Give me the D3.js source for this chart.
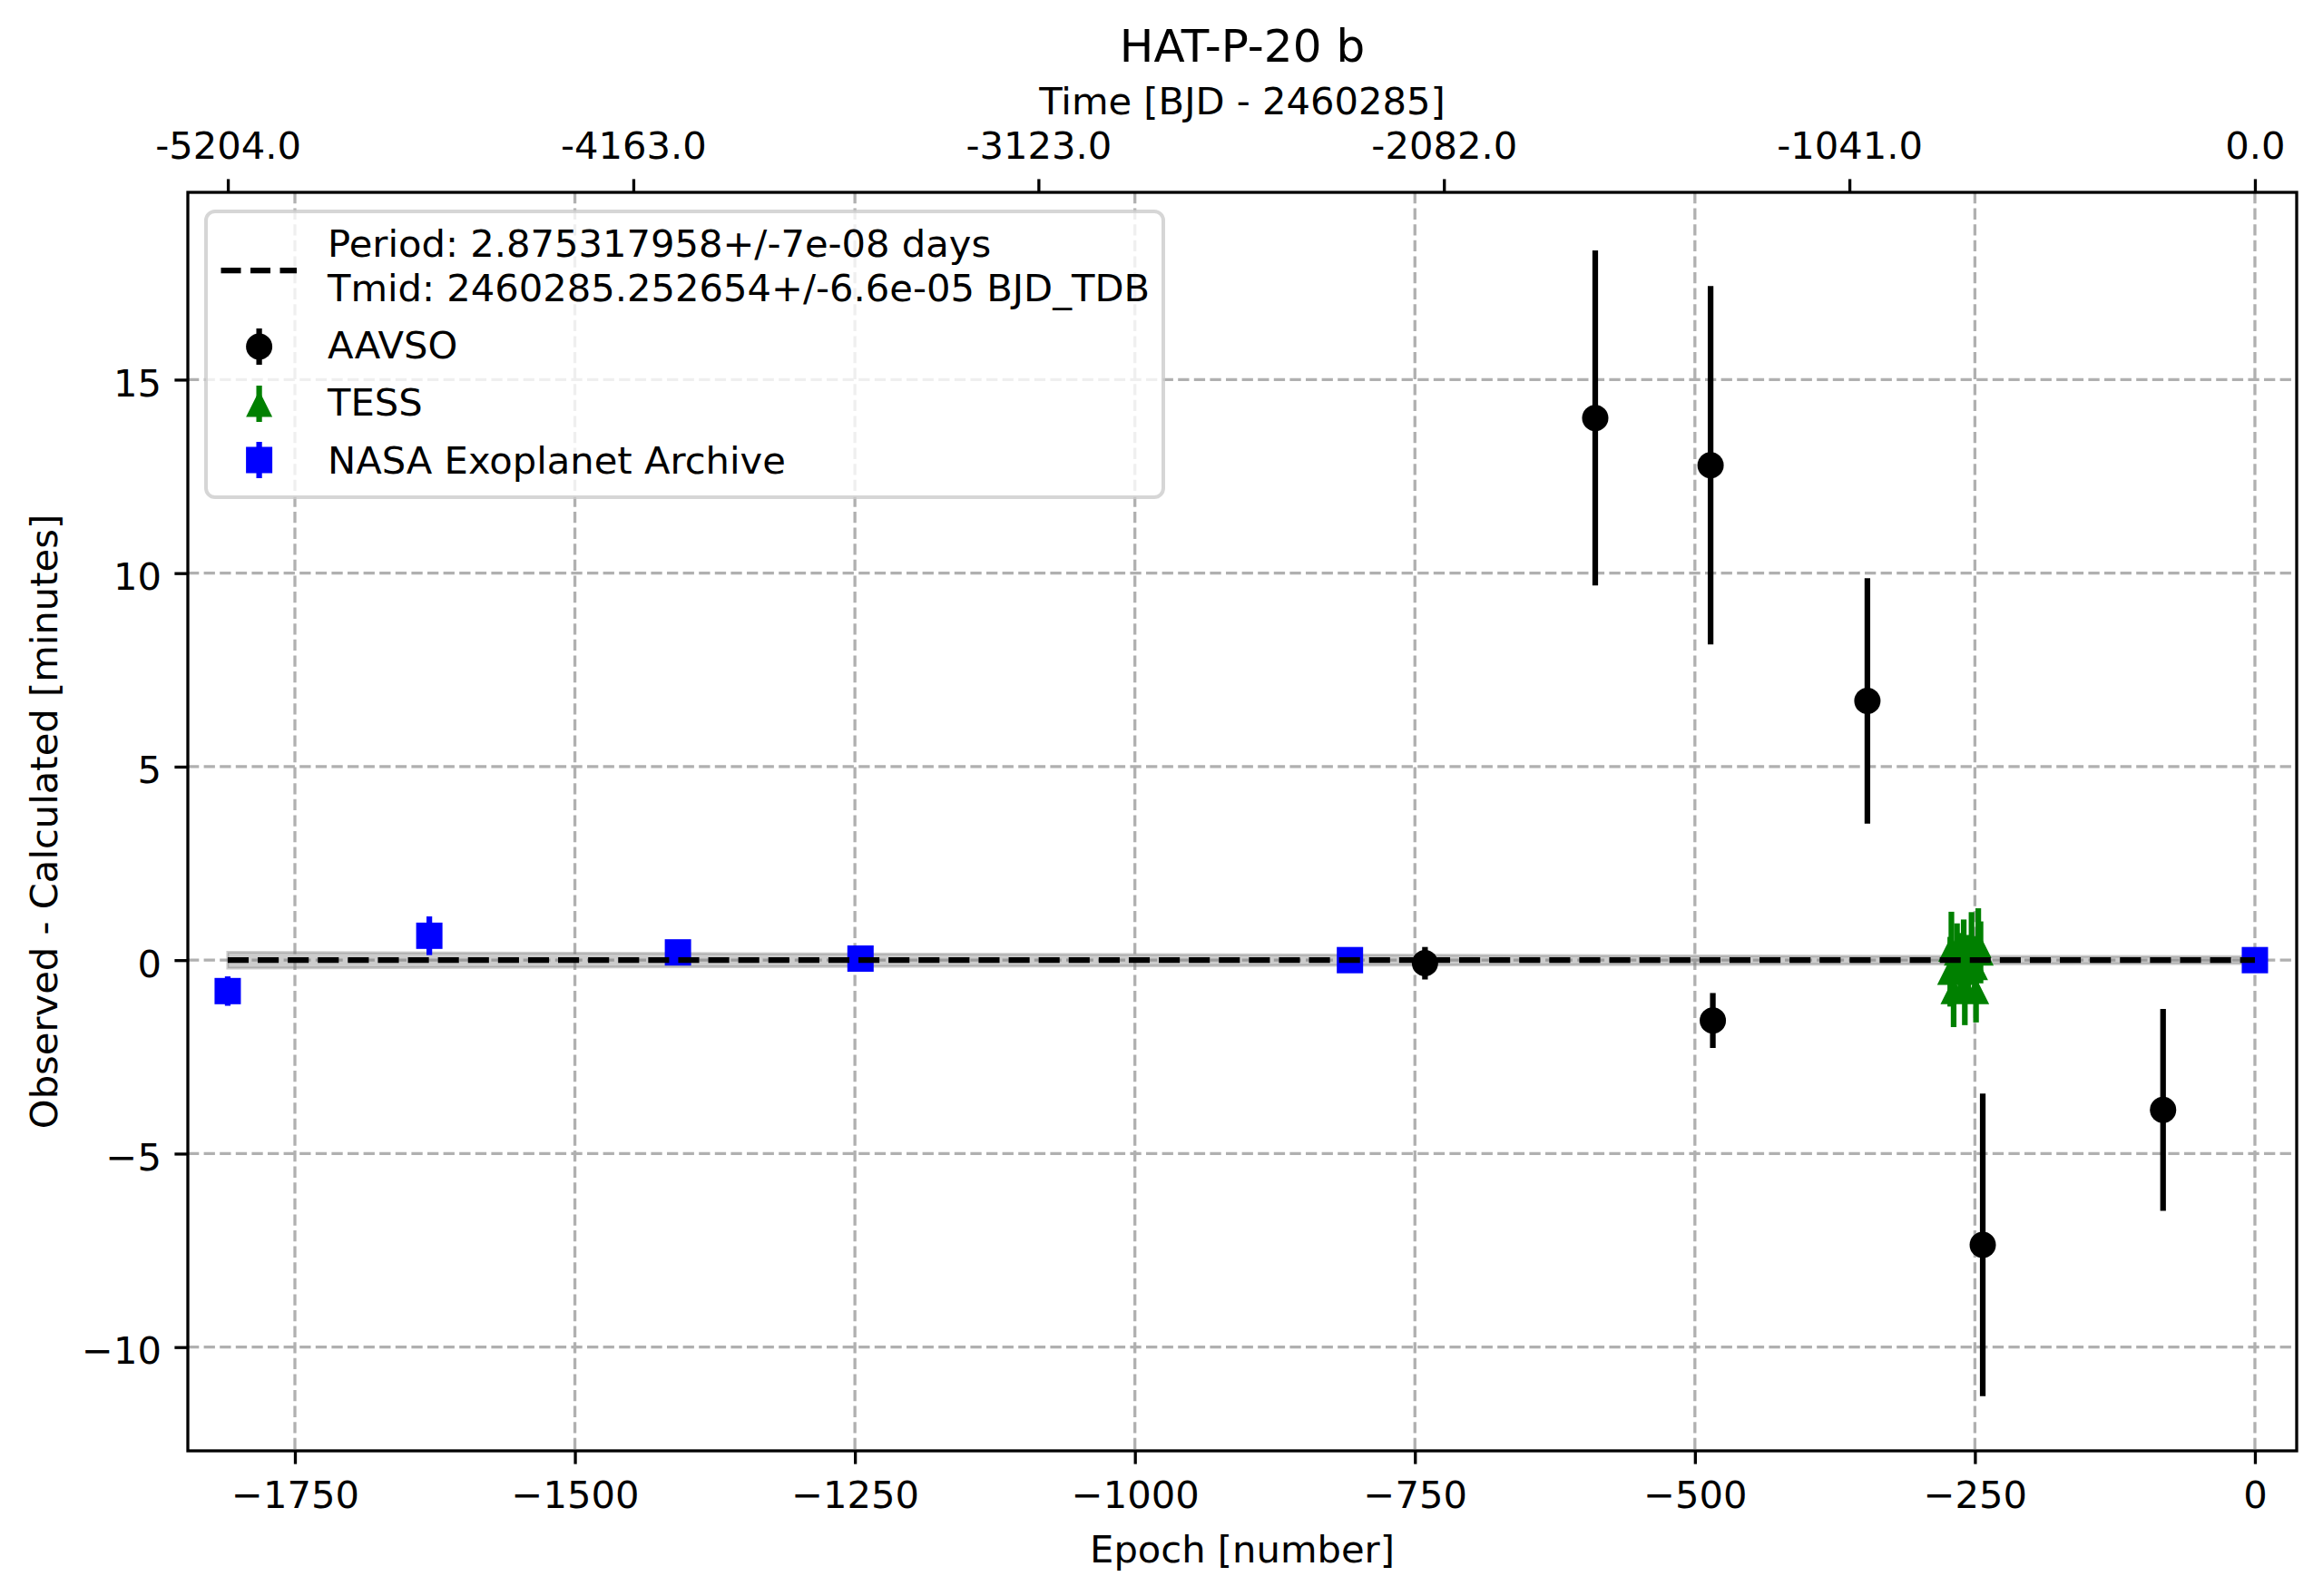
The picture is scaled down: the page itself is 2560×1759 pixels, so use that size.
<!DOCTYPE html>
<html lang="en">
<head>
  <meta charset="UTF-8">
  <title>HAT-P-20 b</title>
  <style>
    body { margin: 0; background: white; }
    svg text { font-family: 'DejaVu Sans', sans-serif; fill: black; }
  </style>
</head>
<body>
  <svg id="svg" width="2560" height="1759"></svg>

  <script src="https://d3js.org/d3.v7.min.js"></script>
  <script>
    // ephemeris
    const period = 2.875317958
    const periodLabel = 'Period: 2.875317958+/-7e-08 days'
    const tmidLabel = 'Tmid: 2460285.252654+/-6.6e-05 BJD_TDB'

    // AAVSO (epoch, O-C minutes, error)
    const aavsoEpoch = [-741, -589, -486, -484, -346, -243, -82]
    const aavsoOC = [-0.08, 14.01, 12.79, -1.56, 6.70, -7.36, -3.87]
    const aavsoErr = [0.42, 4.33, 4.63, 0.71, 3.17, 3.91, 2.61]

    // TESS
    const tessEpoch = [-272, -271, -269, -266, -263, -260, -259, -256, -253, -250, -249, -247, -245]
    const tessOC = [-0.30, 0.30, -0.80, 0.20, -0.10, 0.15, -0.75, -0.20, 0.30, -0.18, -0.80, 0.40, 0.20]
    const tessErr = [0.90, 0.95, 0.93, 0.75, 0.80, 0.90, 0.93, 0.85, 0.94, 0.80, 0.81, 0.94, 0.80]

    // NASA Exoplanet Archive
    const nasaEpoch = [-1810, -1630, -1408, -1245, -808, 0]
    const nasaOC = [-0.80, 0.63, 0.20, 0.04, 0.00, 0.00]
    const nasaErr = [0.38, 0.50, 0.20, 0.15, 0.10, 0.05]

    // linear ephemeris and its uncertainty band
    const modelEpoch = [-1810, 0]
    const modelOC = [0, 0]
    const bandEpoch = [-1810, -1358, -905, -452, 0]
    const bandHalf = [0.205, 0.17, 0.14, 0.11, 0.09]

    // ticks
    const xTicks = [-1750, -1500, -1250, -1000, -750, -500, -250, 0]
    const yTicks = [-10, -5, 0, 5, 10, 15]
    const topTickLabels = ['-5204.0', '-4163.0', '-3123.0', '-2082.0', '-1041.0', '0.0']

    const xDomain = [-1845.6, 37.3]
    const yDomain = [-12.68, 19.84]

    function renderChart() {
      const plot = { left: 207, right: 2531, top: 212, bottom: 1599 }
      const ms = 29 // marker size
      const fs = 41.67 // 10pt at 300 dpi
      const svg = d3.select('#svg')

      const xscale = d3.scaleLinear().domain(xDomain).range([plot.left, plot.right])
      const yscale = d3.scaleLinear().domain(yDomain).range([plot.bottom, plot.top])

      const zip = (e, v, err) => e.map((d, i) => ({ e: d, v: v[i], err: err[i] }))
      const aavso = zip(aavsoEpoch, aavsoOC, aavsoErr)
      const tess = zip(tessEpoch, tessOC, tessErr)
      const nasa = zip(nasaEpoch, nasaOC, nasaErr)

      // grid
      const grid = svg.append('g')
        .attr('stroke', '#b0b0b0')
        .attr('stroke-width', 3.3)
        .attr('stroke-dasharray', '12.3,5.3')
      grid.selectAll('.vgrid').data(xTicks).enter().append('line')
        .attr('x1', d => xscale(d)).attr('x2', d => xscale(d))
        .attr('y1', plot.top).attr('y2', plot.bottom)
      grid.selectAll('.hgrid').data(yTicks).enter().append('line')
        .attr('x1', plot.left).attr('x2', plot.right)
        .attr('y1', d => yscale(d)).attr('y2', d => yscale(d))

      // uncertainty band
      const band = bandEpoch.map((d, i) => ({ e: d, h: bandHalf[i] }))
      svg.append('path')
        .datum(band)
        .attr('d', d3.area().x(d => xscale(d.e)).y0(d => yscale(-d.h)).y1(d => yscale(d.h)))
        .attr('fill', '#808080').attr('fill-opacity', 0.4)
        .attr('stroke', '#808080').attr('stroke-opacity', 0.4).attr('stroke-width', 3)

      // error bars + markers
      function drawSeries(data, color, shape) {
        const g = svg.append('g')
        g.selectAll('line').data(data).enter().append('line')
          .attr('x1', d => xscale(d.e)).attr('x2', d => xscale(d.e))
          .attr('y1', d => yscale(d.v - d.err)).attr('y2', d => yscale(d.v + d.err))
          .attr('stroke', color).attr('stroke-width', 6.25)
        const m = g.selectAll('.mk').data(data).enter()
        if (shape === 'circle') {
          m.append('circle')
            .attr('cx', d => xscale(d.e)).attr('cy', d => yscale(d.v)).attr('r', ms / 2)
            .attr('fill', color)
        } else if (shape === 'square') {
          m.append('rect')
            .attr('x', d => xscale(d.e) - ms / 2).attr('y', d => yscale(d.v) - ms / 2)
            .attr('width', ms).attr('height', ms)
            .attr('fill', color)
        } else {
          m.append('path')
            .attr('d', `M0,${-ms / 2}L${ms / 2},${ms / 2}L${-ms / 2},${ms / 2}Z`)
            .attr('transform', d => `translate(${xscale(d.e)}, ${yscale(d.v)})`)
            .attr('fill', color)
        }
      }
      drawSeries(aavso, 'black', 'circle')
      drawSeries(tess, 'green', 'triangle')
      drawSeries(nasa, 'blue', 'square')

      // ephemeris line
      const model = modelEpoch.map((d, i) => ({ e: d, v: modelOC[i] }))
      svg.append('path')
        .datum(model)
        .attr('d', d3.line().x(d => xscale(d.e)).y(d => yscale(d.v)))
        .attr('fill', 'none')
        .attr('stroke', 'black').attr('stroke-width', 6.25)
        .attr('stroke-dasharray', '23.1,10')

      // axes
      const bottomAxis = d3.axisBottom(xscale)
        .tickValues(xTicks).tickSize(14.6).tickSizeOuter(0)
        .tickFormat(d3.format('d'))
      const gx = svg.append('g')
        .attr('transform', `translate(0, ${plot.bottom})`)
        .call(bottomAxis)
      gx.selectAll('text').attr('y', 62.7).attr('dy', null)

      const topAxis = d3.axisTop(xscale)
        .tickValues(topTickLabels.map(t => +t / period)).tickSize(14.6).tickSizeOuter(0)
        .tickFormat((d, i) => topTickLabels[i])
      const gt = svg.append('g')
        .attr('transform', `translate(0, ${plot.top})`)
        .call(topAxis)
      gt.selectAll('text').attr('y', -37).attr('dy', null)

      const leftAxis = d3.axisLeft(yscale)
        .tickValues(yTicks).tickSize(14.6).tickSizeOuter(0)
        .tickFormat(d3.format('d'))
      const gy = svg.append('g')
        .attr('transform', `translate(${plot.left}, 0)`)
        .call(leftAxis)
      gy.selectAll('text').attr('x', -29).attr('dy', 18)

      for (const g of [gx, gt, gy]) {
        g.attr('font-size', fs).attr('font-family', "'DejaVu Sans', sans-serif")
        g.select('.domain').remove()
        g.selectAll('line').attr('stroke', 'black').attr('stroke-width', 3.3)
      }

      // spines
      svg.append('rect')
        .attr('x', plot.left).attr('y', plot.top)
        .attr('width', plot.right - plot.left).attr('height', plot.bottom - plot.top)
        .attr('fill', 'none').attr('stroke', 'black').attr('stroke-width', 3.3)

      // labels
      const cx = (plot.left + plot.right) / 2
      svg.append('text').attr('x', cx).attr('y', 68)
        .attr('text-anchor', 'middle').attr('font-size', 50).text('HAT-P-20 b')
      svg.append('text').attr('x', cx).attr('y', 126)
        .attr('text-anchor', 'middle').attr('font-size', fs).text('Time [BJD - 2460285]')
      svg.append('text').attr('x', cx).attr('y', 1722)
        .attr('text-anchor', 'middle').attr('font-size', fs).text('Epoch [number]')
      svg.append('text')
        .attr('transform', `translate(63, ${(plot.top + plot.bottom) / 2}) rotate(-90)`)
        .attr('text-anchor', 'middle').attr('font-size', fs)
        .text('Observed - Calculated [minutes]')

      // legend
      const lg = svg.append('g')
      lg.append('rect')
        .attr('x', 227).attr('y', 233).attr('width', 1055).attr('height', 315).attr('rx', 10)
        .attr('fill', 'white').attr('fill-opacity', 0.8)
        .attr('stroke', '#cccccc').attr('stroke-opacity', 0.8).attr('stroke-width', 4)

      const hx = 285.6, tx = 361
      lg.append('line')
        .attr('x1', 243.5).attr('x2', 327).attr('y1', 298).attr('y2', 298)
        .attr('stroke', 'black').attr('stroke-width', 6.25).attr('stroke-dasharray', '22,10.5')
      lg.append('text').attr('x', tx).attr('y', 283).attr('font-size', fs).text(periodLabel)
      lg.append('text').attr('x', tx).attr('y', 332).attr('font-size', fs).text(tmidLabel)

      const entries = [
        { label: 'AAVSO', color: 'black', shape: 'circle', cy: 382, base: 395 },
        { label: 'TESS', color: 'green', shape: 'triangle', cy: 445, base: 458 },
        { label: 'NASA Exoplanet Archive', color: 'blue', shape: 'square', cy: 507, base: 522 }
      ]
      entries.forEach(en => {
        lg.append('line')
          .attr('x1', hx).attr('x2', hx).attr('y1', en.cy - 20).attr('y2', en.cy + 20)
          .attr('stroke', en.color).attr('stroke-width', 6.25)
        if (en.shape === 'circle') {
          lg.append('circle').attr('cx', hx).attr('cy', en.cy).attr('r', ms / 2).attr('fill', en.color)
        } else if (en.shape === 'square') {
          lg.append('rect').attr('x', hx - ms / 2).attr('y', en.cy - ms / 2)
            .attr('width', ms).attr('height', ms).attr('fill', en.color)
        } else {
          lg.append('path')
            .attr('d', `M0,${-ms / 2}L${ms / 2},${ms / 2}L${-ms / 2},${ms / 2}Z`)
            .attr('transform', `translate(${hx}, ${en.cy})`).attr('fill', en.color)
        }
        lg.append('text').attr('x', tx).attr('y', en.base).attr('font-size', fs).text(en.label)
      })
    }

    renderChart()
  </script>
</body>
</html>
